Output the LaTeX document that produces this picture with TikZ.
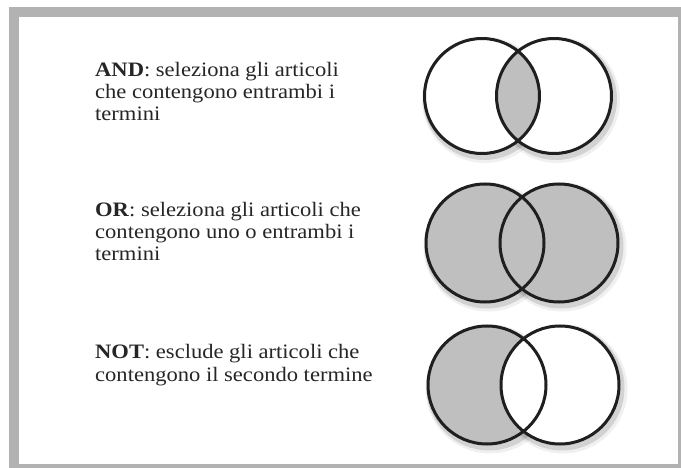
\documentclass[tikz,border=0pt]{standalone}
\usepackage{fontspec}
\setmainfont{Liberation Serif}[FakeStretch=1.1]
\begin{document}
\begin{tikzpicture}[x=1pt,y=-1pt,
  desc/.style={inner sep=0pt, anchor=base west, font=\fontsize{20.5}{22}\selectfont, text=black!85},
  ring/.style={draw=black!88, line width=3pt},
  shadowring/.style={draw=black, line width=7pt, opacity=0.12},
  setfill/.style={fill=black!25}]
\useasboundingbox (0,0) rectangle (681,468);
% frame
\fill[black!30] (9,7) rectangle (681,468);
\fill[white] (19,17) rectangle (678,464);
% texts
\node[desc] (and1) at (95,77) {\textbf{AND}: seleziona gli articoli};
\node[desc] (and2) at (95,99) {che contengono entrambi i};
\node[desc] (and3) at (95,121) {termini};
\node[desc] (or1) at (95,217) {\textbf{OR}: seleziona gli articoli che};
\node[desc] (or2) at (95,239) {contengono uno o entrambi i};
\node[desc] (or3) at (95,261) {termini};
\node[desc] (not1) at (95,358) {\textbf{NOT}: esclude gli articoli che};
\node[desc] (not2) at (95,381) {contengono il secondo termine};
% shadows
\foreach \cx/\cy/\r in {482/96/57.5,554/96/57.5,485/243/59,559/243/59,487/385/59,560/385/59}{
  \draw[shadowring] (\cx+2,\cy+3) circle (\r);
  \draw[shadowring,line width=11pt,opacity=0.06] (\cx+3,\cy+4) circle (\r);
}
% ---- AND
\fill[white] (482,96) circle (57.5) (554,96) circle (57.5);
\begin{scope}
  \clip (482,96) circle (57.5);
  \fill[setfill] (554,96) circle (57.5);
\end{scope}
\draw[ring] (482,96) circle (57.5) (554,96) circle (57.5);
% ---- OR
\fill[setfill] (485,243) circle (59) (559,243) circle (59);
\draw[ring] (485,243) circle (59) (559,243) circle (59);
% ---- NOT
\fill[white] (560,385) circle (59);
\fill[setfill] (487,385) circle (59);
\begin{scope}
  \clip (487,385) circle (59);
  \fill[white] (560,385) circle (59);
\end{scope}
\draw[ring] (487,385) circle (59) (560,385) circle (59);
\end{tikzpicture}
\end{document}
